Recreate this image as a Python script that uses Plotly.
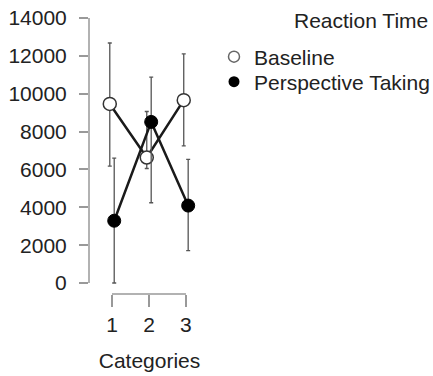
import plotly.graph_objects as go

categories = [1, 2, 3]
baseline = [9460, 6630, 9660]
baseline_plus = [3220, 2430, 2440]
baseline_minus = [3280, 580, 2420]
perspective = [3290, 8510, 4090]
perspective_plus = [3310, 2370, 2440]
perspective_minus = [3290, 4270, 2380]
y_ticks = [0, 2000, 4000, 6000, 8000, 10000, 12000, 14000]

dodge = 0.06
FONT = "Liberation Sans, Arial, sans-serif"
TXT = "#222222"
FS = 21

L, T, W, H = 89, 10, 121, 284

def px_y(p):
    return 1 - (p - T) / H

def px_x(p):
    return (p - L) / W

fig = go.Figure()
fig.add_trace(go.Scatter(
    x=[c - dodge for c in categories], y=baseline, mode="lines+markers",
    line=dict(color="#1a1a1a", width=2.5),
    marker=dict(size=13, color="white", line=dict(color="#333333", width=1.5)),
    error_y=dict(type="data", symmetric=False, array=baseline_plus, arrayminus=baseline_minus,
                 color="#555555", thickness=1.3, width=2),
    showlegend=False,
))
fig.add_trace(go.Scatter(
    x=[c + dodge for c in categories], y=perspective, mode="lines+markers",
    line=dict(color="#1a1a1a", width=2.5),
    marker=dict(size=13, color="black", line=dict(color="black", width=1)),
    error_y=dict(type="data", symmetric=False, array=perspective_plus, arrayminus=perspective_minus,
                 color="#555555", thickness=1.3, width=2),
    showlegend=False,
))
# legend entries (markers only), each in its own legend for exact row placement
fig.add_trace(go.Scatter(x=[None], y=[None], mode="markers", name="Baseline", legend="legend",
                         marker=dict(size=11, color="white", line=dict(color="#666666", width=1.5))))
fig.add_trace(go.Scatter(x=[None], y=[None], mode="markers", name="Perspective Taking", legend="legend2",
                         marker=dict(size=11, color="black")))

# axis lines spanning only data extent
fig.add_shape(type="line", xref="paper", yref="y", x0=0, x1=0, y0=0, y1=14000,
              line=dict(color="#999999", width=1.5))
fig.add_shape(type="line", xref="x", yref="paper", x0=1, x1=3, y0=0, y1=0,
              line=dict(color="#999999", width=1.5))

fig.add_annotation(text="Reaction Time", xref="paper", yref="paper",
                   x=px_x(430), y=px_y(21), xanchor="right", yanchor="middle",
                   showarrow=False, font=dict(size=FS, color=TXT, family=FONT))

leg_common = dict(xanchor="left", yanchor="middle", font=dict(size=FS, color=TXT, family=FONT),
                  bgcolor="rgba(0,0,0,0)", itemwidth=30)

fig.update_layout(
    width=433, height=376,
    margin=dict(l=L, r=433 - L - W, t=T, b=376 - T - H, autoexpand=False),
    paper_bgcolor="white", plot_bgcolor="white",
    font=dict(family=FONT, size=FS, color=TXT),
    xaxis=dict(range=[0.378, 3.65], tickvals=categories, ticktext=[str(c) for c in categories],
               showgrid=False, zeroline=False, showline=False, automargin=False,
               ticks="outside", ticklen=12, tickwidth=1.5, tickcolor="#999999",
               title=dict(text="Categories", standoff=18, font=dict(size=FS, color=TXT))),
    yaxis=dict(range=[-581, 14423], tickvals=y_ticks, ticktext=[str(v) for v in y_ticks],
               showgrid=False, zeroline=False, showline=False, automargin=False,
               ticks="outside", ticklen=9, tickwidth=1.5, tickcolor="#999999", ticklabelstandoff=8),
    legend=dict(x=px_x(214), y=px_y(57), **leg_common),
    legend2=dict(x=px_x(214), y=px_y(82), **leg_common),
)

fig.write_html("out.html")
